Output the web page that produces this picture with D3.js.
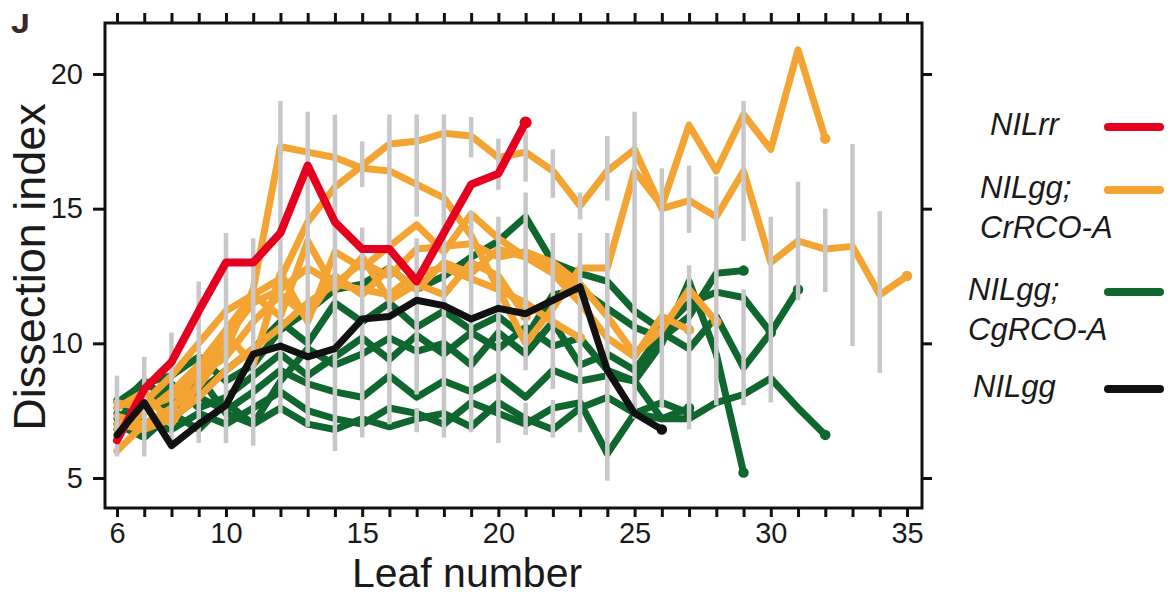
<!DOCTYPE html>
<html>
<head>
<meta charset="utf-8">
<script src="https://cdn.jsdelivr.net/npm/d3@7.9.0/dist/d3.min.js"></script>
<style>
  body { margin: 0; background: #fff; }
  svg { display: block; font-family: "Liberation Sans", Arial, sans-serif; }
  .tick text { fill: #1a1a1a; }
</style>
</head>
<body>
<svg width="1170" height="597"></svg>
<script>
// Leaf numbers on the x axis
const leafNumbers = [6, 7, 8, 9, 10, 11, 12, 13, 14, 15, 16, 17, 18, 19, 20,
  21, 22, 23, 24, 25, 26, 27, 28, 29, 30, 31, 32, 33, 34, 35];
const xLabels = [6, 10, 15, 20, 25, 30, 35];
const yTicks = [5, 10, 15, 20];

// every series starts at leaf 6
const nilRR = [6.4, 8.3, 9.3, 11.2, 13.0, 13.0, 14.1, 16.6, 14.5, 13.5, 13.5, 12.3, 14.1, 15.9, 16.3, 18.2];
const nilGG = [6.6, 7.8, 6.2, 7.0, 7.7, 9.6, 9.9, 9.5, 9.8, 10.9, 11.0, 11.6, 11.4, 10.9, 11.3, 11.1, 11.6, 12.1, 9.0, 7.4, 6.8];

// NILgg; CrRCO-A lines
const crLines = [
  [6.8, 7.4, 8.2, 9.2, 10.5, 11.8, 12.4, 14.5, 15.8, 16.6, 17.4, 17.5, 17.8, 17.7, 16.9, 17.1, 16.4, 15.1, 16.4, 17.2, 15.0, 15.3, 14.7, 16.4, 13.0, 13.8, 13.5, 13.6, 11.8, 12.5],
  [7.3, 7.0, 7.6, 8.4, 9.8, 12.0, 17.3, 17.1, 16.9, 16.5, 16.4, 15.9, 15.4, 14.0, 12.0, 10.0, 11.3, 12.8, 12.8, 16.4, 15.1, 18.1, 16.4, 18.5, 17.2, 20.9, 17.6],
  [6.0, 7.0, 7.5, 9.0, 10.2, 11.5, 12.0, 12.8, 12.2, 13.0, 12.5, 13.5, 13.6, 13.7, 13.2, 13.4, 13.0, 12.2, 11.0, 9.6, 10.5, 12.0, 10.8],
  [7.8, 7.6, 8.0, 8.8, 9.5, 10.8, 11.8, 11.0, 12.5, 11.8, 12.8, 12.0, 13.0, 12.6, 13.5, 13.2, 12.6, 11.5, 10.2, 9.5, 11.0, 10.5],
  [7.0, 6.8, 7.2, 8.0, 9.0, 9.8, 10.6, 11.5, 12.2, 12.0, 11.8, 12.6, 12.8, 12.4, 12.0, 11.5, 10.8, 10.2],
  [6.5, 7.8, 8.8, 10.0, 11.2, 11.8, 11.0, 13.8, 12.0, 13.2, 11.6, 12.2, 11.8, 13.0, 12.5, 11.0],
  [7.6, 8.2, 7.0, 8.5, 10.4, 9.2, 12.6, 10.8, 13.4, 12.8, 13.6, 14.4, 13.4, 14.8, 13.9, 13.2, 12.8, 12.0]
];

// NILgg; CgRCO-A lines
const cgLines = [
  [7.8, 8.5, 8.8, 9.5, 8.6, 9.2, 10.5, 11.2, 12.0, 12.2, 12.8, 12.0, 12.5, 13.2, 13.8, 14.7, 13.0, 12.6, 12.3, 11.2, 10.5, 11.5, 11.9, 11.7, 10.4, 12.0],
  [7.2, 8.0, 7.6, 8.2, 9.0, 9.8, 10.8, 10.0, 11.5, 10.8, 11.5, 10.6, 11.2, 10.5, 11.0, 10.2, 11.8, 12.0, 11.3, 10.6, 10.2, 11.0, 12.6, 12.7],
  [6.8, 7.5, 8.5, 7.6, 8.0, 8.8, 9.6, 8.8, 9.5, 10.2, 9.4, 10.3, 9.6, 10.4, 9.8, 10.6, 9.9, 10.2, 9.0, 8.6, 10.0, 12.3, 9.6, 5.2],
  [7.4, 6.8, 7.2, 8.0, 7.5, 8.2, 9.0, 8.5, 8.2, 8.0, 8.8, 8.0, 8.6, 8.2, 8.8, 8.0, 9.0, 8.6, 8.8, 8.6, 7.2, 7.2, 7.8, 8.1, 8.7, 7.6, 6.6],
  [7.9, 7.0, 6.8, 7.4, 7.0, 7.6, 8.2, 7.5, 7.2, 7.0, 7.6, 7.4, 7.0, 7.8, 7.4, 7.0, 7.6, 7.8, 5.9, 7.4, 7.8, 7.4],
  [7.0, 6.5, 7.4, 6.8, 7.8, 7.0, 7.6, 7.0, 6.8, 7.2, 6.9, 7.2, 7.4, 6.9, 7.8, 7.2, 6.8, 7.6, 8.0, 7.4, 7.2, 7.6],
  [7.6, 8.6, 7.8, 8.8, 7.4, 7.0, 8.6, 9.8, 9.2, 9.6, 10.2, 9.7, 10.0, 9.2, 10.4, 9.6, 10.8, 9.2, 9.6, 9.0, 10.4, 9.8, 11.0, 9.1, 10.4]
];

// grey error bars: [leaf, low, high] (some leaves have broken bars)
const errBars = [
  [6, 5.8, 8.8], [7, 5.8, 9.5], [8, 6.2, 10.4], [9, 6.3, 12.3], [10, 6.3, 14.1],
  [11, 6.2, 13.9], [12, 7.4, 19.0], [13, 6.9, 18.6], [14, 6.0, 18.5],
  [15, 15.8, 17.5], [15, 6.5, 14.3], [16, 7.0, 18.5],
  [17, 14.7, 18.5], [17, 8.1, 13.9], [17, 6.7, 7.6], [18, 6.5, 18.5],
  [19, 16.9, 18.4], [19, 6.7, 14.9], [20, 15.7, 17.6], [20, 6.3, 14.7],
  [21, 16.0, 17.9], [21, 9.0, 15.6], [21, 6.6, 7.8],
  [22, 15.4, 17.2], [22, 8.3, 14.1], [22, 6.5, 7.9],
  [23, 14.6, 15.6], [23, 6.7, 14.1], [24, 15.3, 17.7], [24, 4.9, 14.1],
  [25, 7.2, 18.6], [26, 7.6, 16.5], [27, 14.1, 16.6], [27, 6.8, 12.9],
  [28, 7.7, 16.2], [29, 13.8, 19.0], [29, 7.7, 12.0], [30, 7.8, 14.7],
  [31, 11.6, 16.0], [32, 11.9, 15.0], [33, 9.9, 17.4], [34, 8.9, 14.9]
];

const legendItems = [
  { lines: ['NILrr'], color: '#e60020' },
  { lines: ['NILgg;', 'CrRCO-A'], color: '#f4a432' },
  { lines: ['NILgg;', 'CgRCO-A'], color: '#10662f' },
  { lines: ['NILgg'], color: '#111' }
];

const svg = d3.select('svg');
const frame = { left: 105, right: 922, top: 23, bottom: 508 };

const x = d3.scaleLinear().domain([6, 35]).range([117, 907]);
const y = d3.scaleLinear().domain([5, 20]).range([478, 74]);

const line = d3.line()
  .x((d, i) => x(leafNumbers[i]))
  .y(d => y(d));

function drawSeries(g, values, color, width) {
  g.append('path')
    .attr('d', line(values))
    .attr('fill', 'none')
    .attr('stroke', color)
    .attr('stroke-width', width)
    .attr('stroke-linejoin', 'round')
    .attr('stroke-linecap', 'round');
  let last = values.length - 1;
  g.append('circle')
    .attr('cx', x(leafNumbers[last]))
    .attr('cy', y(values[last]))
    .attr('r', width * 0.75)
    .attr('fill', color);
}

const plot = svg.append('g');

// green and orange bundles
cgLines.forEach(v => drawSeries(plot, v, '#10662f', 7));
crLines.forEach(v => drawSeries(plot, v, '#f4a432', 7));

// grey error bars over them
plot.selectAll('line.err')
  .data(errBars)
  .join('line')
  .attr('class', 'err')
  .attr('x1', d => x(d[0])).attr('x2', d => x(d[0]))
  .attr('y1', d => y(d[1])).attr('y2', d => y(d[2]))
  .attr('stroke', '#c8c8c8')
  .attr('stroke-width', 4.5);

drawSeries(plot, nilRR, '#e60020', 8);
drawSeries(plot, nilGG, '#111', 7);

// axes
const fontSize = 29;
const axBottom = svg.append('g')
  .attr('transform', `translate(0,${frame.bottom})`)
  .call(d3.axisBottom(x).tickValues(leafNumbers).tickSize(9).tickPadding(5)
    .tickFormat(d => xLabels.includes(d) ? d : ''));
const axTop = svg.append('g')
  .attr('transform', `translate(0,${frame.top})`)
  .call(d3.axisTop(x).tickValues(leafNumbers).tickSize(10).tickFormat(''));
const axLeft = svg.append('g')
  .attr('transform', `translate(${frame.left},0)`)
  .call(d3.axisLeft(y).tickValues(yTicks).tickSize(12).tickPadding(10));
const axRight = svg.append('g')
  .attr('transform', `translate(${frame.right},0)`)
  .call(d3.axisRight(y).tickValues(yTicks).tickSize(10).tickFormat(''));

[axBottom, axTop, axLeft, axRight].forEach(a => {
  a.select('.domain').remove();
  a.selectAll('.tick line').attr('stroke', '#111').attr('stroke-width', 3);
  a.selectAll('.tick text').attr('font-size', fontSize);
});

svg.append('rect')
  .attr('x', frame.left).attr('y', frame.top)
  .attr('width', frame.right - frame.left)
  .attr('height', frame.bottom - frame.top)
  .attr('fill', 'none').attr('stroke', '#111').attr('stroke-width', 3);

// axis titles
svg.append('text')
  .attr('x', 467).attr('y', 587)
  .attr('text-anchor', 'middle')
  .attr('font-size', 41)
  .attr('fill', '#1a1a1a')
  .text('Leaf number');

svg.append('text')
  .attr('transform', 'translate(45,267) rotate(-90)')
  .attr('text-anchor', 'middle')
  .attr('font-size', 45)
  .attr('fill', '#1a1a1a')
  .text('Dissection index');

// panel letter, its top is cut off in the original figure
svg.append('clipPath').attr('id', 'cutTop')
  .append('rect').attr('x', 0).attr('y', 14).attr('width', 60).attr('height', 40);
svg.append('text')
  .attr('x', 11).attr('y', 33)
  .attr('font-size', 34).attr('font-weight', 'bold')
  .attr('fill', '#3a2626')
  .attr('clip-path', 'url(#cutTop)')
  .text('J');

// legend
const legendY = [135, 198, 300, 397];
const legendX = [990, 980, 968, 973];
const legend = svg.append('g');
legendItems.forEach((item, i) => {
  let t = legend.append('text')
    .attr('x', legendX[i]).attr('y', legendY[i])
    .attr('font-size', 31).attr('font-style', 'italic')
    .attr('fill', '#1a1a1a');
  item.lines.forEach((s, j) => {
    t.append('tspan').attr('x', legendX[i]).attr('dy', j ? 40 : 0).text(s);
  });
  legend.append('line')
    .attr('x1', 1108).attr('x2', 1160)
    .attr('y1', legendY[i] - 8).attr('y2', legendY[i] - 8)
    .attr('stroke', item.color).attr('stroke-width', 8)
    .attr('stroke-linecap', 'round');
});
</script>
</body>
</html>
